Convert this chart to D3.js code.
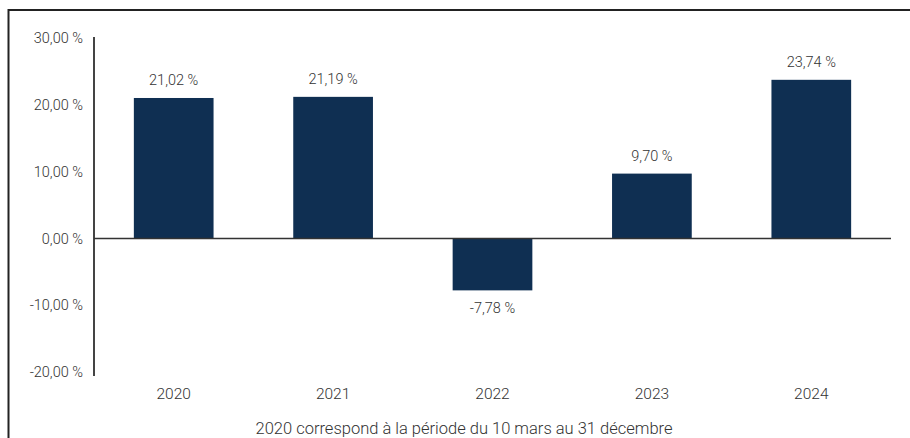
<!DOCTYPE html>
<html>
<head>
<meta charset="utf-8">
<script src="https://cdn.jsdelivr.net/npm/d3@7"></script>
<style>
  body { margin: 0; background: #fff; }
  text { font-family: 'Roboto', sans-serif; font-weight: 300; fill: #333; }
</style>
</head>
<body>
<div id="chart"></div>
<script>
const years = ['2020', '2021', '2022', '2023', '2024'];
const returns = [21.02, 21.19, -7.78, 9.70, 23.74];
const yTicks = [-20, -10, 0, 10, 20, 30];
const footnote = '2020 correspond à la période du 10 mars au 31 décembre';

const w = 910;
const h = 438;
const fmt = v => d3.format('.2f')(v).replace('.', ',').replace('−', '-') + ' %';

const svg = d3.select('#chart')
  .append('svg')
  .attr('width', w)
  .attr('height', h);

// frame (top + left only)
svg.append('path')
  .attr('d', 'M8.5,' + h + 'V10H' + w)
  .attr('fill', 'none')
  .attr('stroke', '#222')
  .attr('stroke-width', 2);

const xScale = d3.scaleBand()
  .domain(years)
  .range([94, 891])
  .paddingInner(0.5)
  .paddingOuter(0.25);

const yScale = d3.scaleLinear()
  .domain([-20, 30])
  .range([372, 38]);

const yAxis = d3.axisLeft(yScale)
  .tickValues(yTicks)
  .tickSize(0)
  .tickPadding(11)
  .tickFormat(fmt);

const gy = svg.append('g')
  .attr('transform', 'translate(94, 0)')
  .call(yAxis);
gy.select('.domain').remove();
gy.selectAll('text')
  .attr('font-size', 14.5)
  .style('font-family', 'Roboto, sans-serif')
  .style('font-weight', 300)
  .attr('fill', '#333');

svg.append('line')
  .attr('x1', 94).attr('x2', 94)
  .attr('y1', 37).attr('y2', 376)
  .attr('stroke', '#444')
  .attr('stroke-width', 2);

svg.selectAll('rect.bar')
  .data(returns)
  .enter()
  .append('rect')
  .attr('class', 'bar')
  .attr('x', (d, i) => xScale(years[i]))
  .attr('width', xScale.bandwidth())
  .attr('y', d => yScale(Math.max(0, d)))
  .attr('height', d => Math.abs(yScale(d) - yScale(0)))
  .attr('fill', '#0f2f52');

svg.append('line')
  .attr('x1', 94).attr('x2', 891)
  .attr('y1', yScale(0)).attr('y2', yScale(0))
  .attr('stroke', '#333')
  .attr('stroke-width', 1.5);

svg.selectAll('text.val')
  .data(returns)
  .enter()
  .append('text')
  .attr('class', 'val')
  .attr('x', (d, i) => xScale(years[i]) + xScale.bandwidth() / 2)
  .attr('y', d => d >= 0 ? yScale(d) - 13 : yScale(d) + 23)
  .attr('text-anchor', 'middle')
  .attr('font-size', 14.5)
  .text(d => fmt(d));

svg.selectAll('text.cat')
  .data(years)
  .enter()
  .append('text')
  .attr('class', 'cat')
  .attr('x', d => xScale(d) + xScale.bandwidth() / 2)
  .attr('y', 399)
  .attr('text-anchor', 'middle')
  .attr('font-size', 15.5)
  .text(d => d);

svg.append('text')
  .attr('x', 464)
  .attr('y', 434)
  .attr('text-anchor', 'middle')
  .attr('font-size', 16.5)
  .text(footnote);
</script>
</body>
</html>
